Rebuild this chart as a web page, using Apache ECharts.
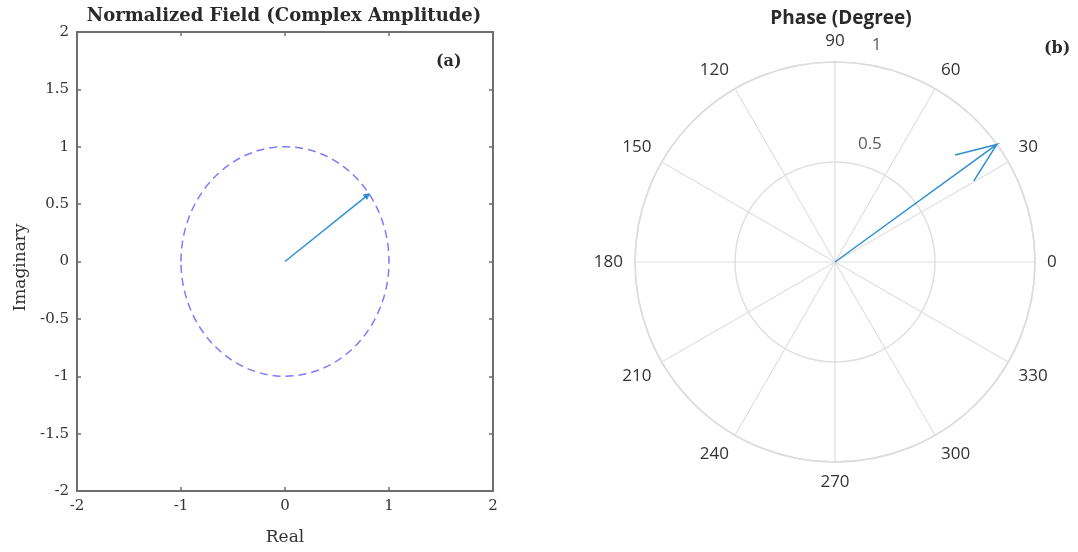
<!DOCTYPE html>
<html>
<head>
<meta charset="utf-8">
<script src="https://cdn.jsdelivr.net/npm/echarts@6/dist/echarts.min.js"></script>
<style>
  html, body { margin: 0; padding: 0; background: #fff; }
  #main { width: 1078px; height: 552px; }
</style>
</head>
<body>
<div id="main"></div>
<script>
// (a) complex amplitude
const realPart = [0.81]
const imagPart = [0.59]
const unitRadius = [1]
const xTicks = [-2, -1, 0, 1, 2]
const yTicks = [-2, -1.5, -1, -0.5, 0, 0.5, 1, 1.5, 2]

// (b) compass
const amplitude = [1]
const phaseDeg = [36]
const rLabels = [0.5, 1]
const rLabelAngle = 82

const serif = '"DejaVu Serif", "Liberation Serif", serif'
const sans = '"Open Sans", "Noto Sans", sans-serif'
const boxColor = '#6e6e6e'
const arrowColor = '#2f8fd2'

const chart = echarts.init(document.getElementById('main'))

const boxAxis = (pos, show, extra) => Object.assign({
  type: 'value',
  gridIndex: 0,
  position: pos,
  axisLine: { show: true, onZero: false, lineStyle: { color: boxColor, width: 2 } },
  axisTick: { show: true, inside: true, length: 4, lineStyle: { color: boxColor, width: 1.5 } },
  axisLabel: { show: show, color: '#333', fontFamily: serif, fontSize: 15, margin: 8 },
  splitLine: { show: false }
}, extra)

chart.setOption({
  animation: false,
  title: [{
    text: 'Normalized Field (Complex Amplitude)',
    left: 279,
    top: 2,
    textAlign: 'center',
    textStyle: { fontFamily: serif, fontSize: 18, fontWeight: 'bold', color: '#2a2a2a' }
  }, {
    text: 'Phase (Degree)',
    left: 836,
    top: 4,
    textAlign: 'center',
    textStyle: { fontFamily: sans, fontSize: 19, fontWeight: 'bold', color: '#2a2a2a' }
  }],
  graphic: [{
    type: 'text', left: 436, top: 54,
    style: { text: '(a)', font: 'bold 16px ' + serif, fill: '#2a2a2a' }
  }, {
    type: 'text', left: 1044, top: 41,
    style: { text: '(b)', font: 'bold 16px ' + serif, fill: '#2a2a2a' }
  }],
  grid: [{ left: 77, right: 585, top: 32, bottom: 61 }],
  xAxis: [
    boxAxis('bottom', true, {
      min: xTicks[0], max: xTicks[xTicks.length - 1], interval: 1,
      name: 'Real', nameLocation: 'middle', nameGap: 38,
      nameTextStyle: { fontFamily: serif, fontSize: 17, color: '#333' }
    }),
    boxAxis('top', false, { min: xTicks[0], max: xTicks[xTicks.length - 1], interval: 1 })
  ],
  yAxis: [
    boxAxis('left', true, {
      min: yTicks[0], max: yTicks[yTicks.length - 1], interval: 0.5,
      name: 'Imaginary', nameLocation: 'middle', nameGap: 48, nameRotate: 90,
      nameTextStyle: { fontFamily: serif, fontSize: 17, color: '#333', padding: [0, 12, 0, 0] }
    }),
    boxAxis('right', false, { min: yTicks[0], max: yTicks[yTicks.length - 1], interval: 0.5 })
  ],
  polar: { center: [835, 262], radius: 200 },
  angleAxis: {
    type: 'value',
    min: 0, max: 360, interval: 30,
    startAngle: 0, clockwise: false,
    axisLine: { show: true, lineStyle: { color: '#dcdcdc', width: 1.5 } },
    axisTick: { show: false },
    splitLine: { show: true, lineStyle: { color: '#e0e0e0', width: 1.2 } },
    axisLabel: {
      color: '#333', fontFamily: sans, fontSize: 17, margin: 12,
      formatter: v => (v === 360 ? '' : String(v))
    }
  },
  radiusAxis: {
    type: 'value',
    min: 0, max: 1, interval: 0.5,
    axisLine: { show: false },
    axisTick: { show: false },
    axisLabel: { show: false },
    splitLine: { show: true, lineStyle: { color: '#e0e0e0', width: 1.5 } }
  },
  series: [{
    // dashed unit circle
    type: 'custom',
    xAxisIndex: 0, yAxisIndex: 0,
    data: unitRadius.map(r => [0, 0, r]),
    renderItem: (params, api) => {
      const c = api.coord([api.value(0), api.value(1)])
      const r = api.value(2)
      const px = api.coord([r, 0])[0] - c[0]
      const py = c[1] - api.coord([0, r])[1]
      return {
        type: 'ellipse',
        shape: { cx: c[0], cy: c[1], rx: px, ry: py },
        style: { fill: 'none', stroke: '#7c7cff', lineWidth: 1.5, lineDash: [8, 5] }
      }
    },
    silent: true
  }, {
    // field vector
    type: 'custom',
    xAxisIndex: 0, yAxisIndex: 0,
    data: realPart.map((re, i) => [re, imagPart[i]]),
    renderItem: (params, api) => {
      const o = api.coord([0, 0])
      const t = api.coord([api.value(0), api.value(1)])
      const a = Math.atan2(t[1] - o[1], t[0] - o[0])
      const h = 6
      const b1 = [t[0] - h * Math.cos(a - 0.5), t[1] - h * Math.sin(a - 0.5)]
      const b2 = [t[0] - h * Math.cos(a + 0.5), t[1] - h * Math.sin(a + 0.5)]
      return {
        type: 'group',
        children: [{
          type: 'line',
          shape: { x1: o[0], y1: o[1], x2: t[0], y2: t[1] },
          style: { stroke: arrowColor, lineWidth: 1.5 }
        }, {
          type: 'polygon',
          shape: { points: [t, b1, b2] },
          style: { fill: arrowColor, stroke: arrowColor, lineWidth: 1 }
        }]
      }
    },
    silent: true
  }, {
    // compass arrow (MATLAB style head)
    type: 'custom',
    coordinateSystem: 'polar',
    data: amplitude.map((r, i) => [r, phaseDeg[i]]),
    renderItem: (params, api) => {
      const r = api.value(0)
      const th = api.value(1)
      const hr = Math.sqrt(0.8 * 0.8 + 0.08 * 0.08) * r
      const hd = Math.atan2(0.08, 0.8) * 180 / Math.PI
      const o = api.coord([0, 0])
      const t = api.coord([r, th])
      const b1 = api.coord([hr, th + hd])
      const b2 = api.coord([hr, th - hd])
      return {
        type: 'polyline',
        shape: { points: [o, t, b1, t, b2] },
        style: { fill: 'none', stroke: arrowColor, lineWidth: 1.5 }
      }
    },
    silent: true
  }, {
    // radius tick labels
    type: 'scatter',
    coordinateSystem: 'polar',
    symbolSize: 0,
    data: rLabels.map(r => [r, rLabelAngle]),
    label: {
      show: true,
      position: [9, -19],
      align: 'left',
      verticalAlign: 'middle',
      color: '#333',
      fontFamily: sans,
      fontSize: 17,
      formatter: p => String(p.value[0])
    },
    silent: true
  }]
})
</script>
</body>
</html>
